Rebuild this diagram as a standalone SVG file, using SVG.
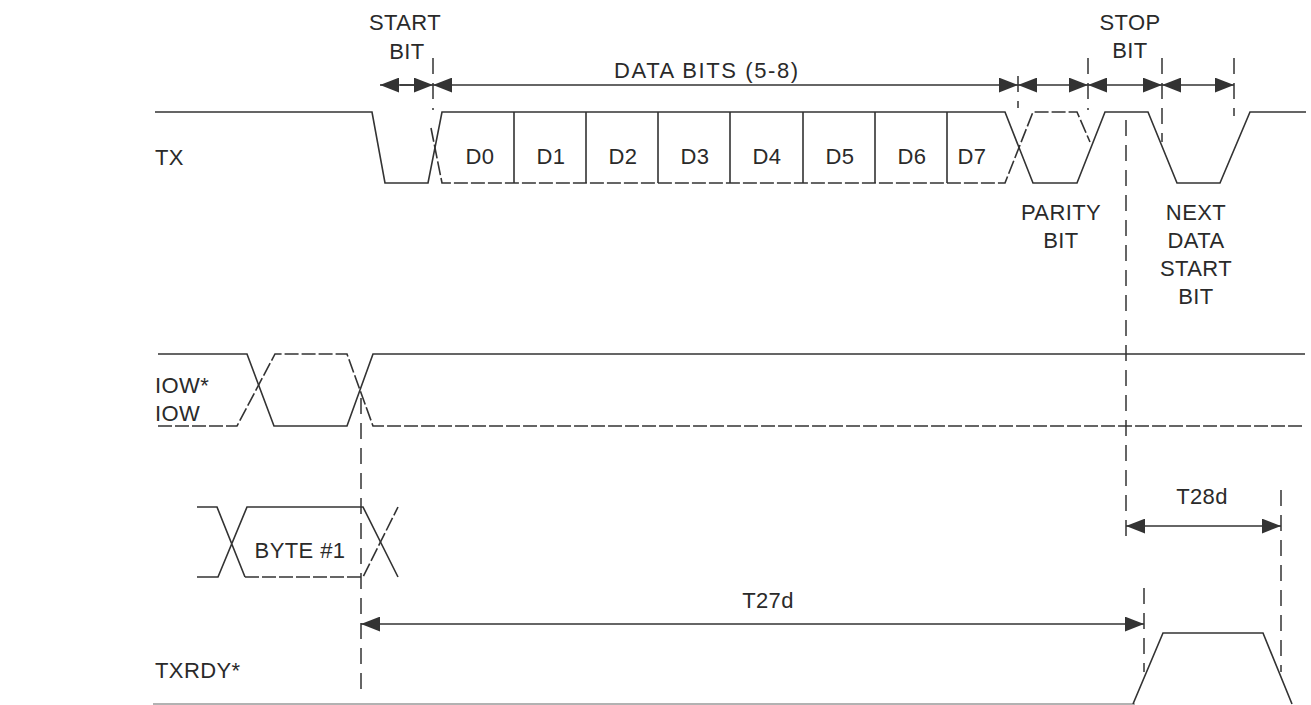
<svg xmlns="http://www.w3.org/2000/svg" width="1311" height="705" viewBox="0 0 1311 705">
<defs>
<marker id="ah" viewBox="0 0 18 14" markerWidth="19" markerHeight="15" refX="18" refY="7" orient="auto-start-reverse" markerUnits="userSpaceOnUse">
<path d="M0,0 L18,7 L0,14 Z" fill="#333"/>
</marker>
<style>
text{font-family:"Liberation Sans",Arial,sans-serif;font-size:22px;fill:#2a2a2a;letter-spacing:0.4px}
.c{text-anchor:middle}
.w{fill:none;stroke:#333;stroke-width:1.6;stroke-linejoin:miter}
.wd{fill:none;stroke:#333;stroke-width:1.6;stroke-dasharray:14,3}
.v{fill:none;stroke:#333;stroke-width:1.5;stroke-dasharray:16,9}
.a{fill:none;stroke:#333;stroke-width:1.5;marker-start:url(#ah);marker-end:url(#ah)}
.a1{fill:none;stroke:#333;stroke-width:1.5;marker-end:url(#ah)}
.g{fill:none;stroke:#999;stroke-width:1.6}
</style>
</defs>
<rect width="1311" height="705" fill="#fff"/>

<g id="labels">
<text x="155" y="165">TX</text>
<text x="155" y="393">IOW*</text>
<text x="155" y="421">IOW</text>
<text x="155" y="678">TXRDY*</text>
</g>

<g id="tx">
<path class="w" d="M155,112 H372 L385,183 H428 L442,112 H1005 L1033,183 H1077 L1105,112 H1148 L1177,183 H1220 L1250,112 H1306"/>
<path class="wd" d="M431,128 L442,183 H1005 L1033,112 H1077 L1090,142"/>
<path class="w" d="M514,112 V183 M586,112 V183 M658,112 V183 M730,112 V183 M803,112 V183 M875,112 V183 M947,112 V183"/>
<text class="c" x="480" y="164">D0</text>
<text class="c" x="551" y="164">D1</text>
<text class="c" x="623" y="164">D2</text>
<text class="c" x="695" y="164">D3</text>
<text class="c" x="767" y="164">D4</text>
<text class="c" x="840" y="164">D5</text>
<text class="c" x="912" y="164">D6</text>
<text class="c" x="972" y="164">D7</text>
</g>

<g id="iow">
<path class="w" d="M158,354 H247 L274,426 H347 L373,354 H1305"/>
<path class="wd" d="M158,426 H237 L275,354 H347 L373,426 H1305"/>
</g>

<g id="byte">
<path class="w" d="M197,507 H217 L245,577 M197,577 H218 L247,507 H363 L398,577"/>
<path class="wd" d="M245,577 H363 L398,507"/>
<text class="c" x="300" y="558">BYTE #1</text>
</g>

<g id="txrdy">
<path class="g" d="M153,704 H1135"/>
<path class="w" d="M1133,704 L1163,633 H1263 L1292,704"/>
</g>

<g id="annotations">
<text class="c" x="405" y="30">START</text>
<text class="c" x="407" y="59">BIT</text>
<text x="614" y="78" style="letter-spacing:1.6px">DATA BITS (5-8)</text>
<text class="c" x="1130" y="30">STOP</text>
<text class="c" x="1130" y="58">BIT</text>
<text class="c" x="1061" y="220">PARITY</text>
<text class="c" x="1061" y="248">BIT</text>
<text class="c" x="1196" y="220">NEXT</text>
<text class="c" x="1196" y="248">DATA</text>
<text class="c" x="1196" y="276">START</text>
<text class="c" x="1196" y="304">BIT</text>
<text class="c" x="1202" y="504">T28d</text>
<text class="c" x="768" y="608">T27d</text>
</g>

<g id="connectors">
<path class="v" d="M433,58 V110"/>
<path class="v" d="M1018,76 V108"/>
<path class="v" d="M1088,58 V110"/>
<path class="v" d="M1162,58 V142"/>
<path class="v" d="M1234,58 V116"/>
<path class="v" d="M1126,120 V545"/>
<path class="v" d="M361,398 V690"/>
<path class="v" d="M1144,588 V672"/>
<path class="v" d="M1281,490 V672"/>
<path class="a1" d="M420,85 H380"/>
<path class="a1" d="M400,85 H433"/>
<path class="a" d="M433,85 H1018"/>
<path class="a" d="M1018,85 H1088"/>
<path class="a" d="M1088,85 H1162"/>
<path class="a" d="M1162,85 H1234"/>
<path class="a" d="M1126,526 H1281"/>
<path class="a" d="M361,624 H1144"/>
</g>
</svg>
